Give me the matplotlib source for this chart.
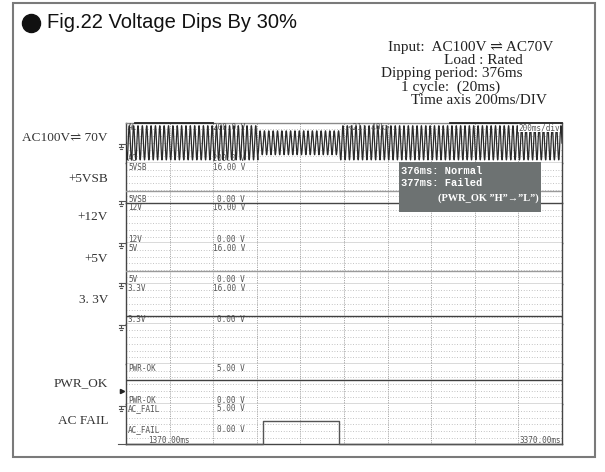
import numpy as np
import matplotlib.pyplot as plt
from matplotlib.patches import Rectangle

# capture window (ms), 200 ms per division
t_start, t_end = 1370.0, 3370.0
div_ms = 200

# AC input: 50 Hz mains, peak envelope dips from 100 V to 70 V and back
mains_hz = 50
env_edges = [1370, 1975, 2351, 3370]
env_peak = [170, 119, 170]

# DC rails as displayed on the 0-16 V zones (12V sits on the zone top)
rail_names = ['5VSB', '12V', '5V', '3.3V']
rail_levels = [4.8, 16.0, 4.9, 3.2]
rail_colors = ['#9a9a9a', '#454545', '#9a9a9a', '#404040']

# logic signals (0-5 V zones)
pwr_ok_t = [1370, 3370]
pwr_ok_v = [3.0, 3.0]
ac_fail_t = [1370, 1997, 1997, 2348, 2348, 3370]
ac_fail_v = [0, 0, 2.9, 2.9, 0, 0]

# zone name, top label, bottom label, y-limits
zones = [
    ('AC', '200.0 V', '-200.0 V', (-200, 200)),
    ('5VSB', '16.00 V', '0.00 V', (0, 16)),
    ('12V', '16.00 V', '0.00 V', (0, 16)),
    ('5V', '16.00 V', '0.00 V', (0, 16)),
    ('3.3V', '16.00 V', '0.00 V', (0, 16)),
    (None, None, None, (0, 16)),
    ('PWR-OK', '5.00 V', '0.00 V', (0, 5)),
    ('AC_FAIL', '5.00 V', '0.00 V', (0, 5)),
]

side_labels = ['AC100V\u21cc 70V', '+5VSB', '+12V', '+5V', '3. 3V', 'PWR_OK', 'AC FAIL']
side_label_y = [138, 179, 217, 259, 300, 383, 421]

W, H = 605, 472
fig = plt.figure(figsize=(W / 100, H / 100), dpi=100)
fig.patch.set_facecolor('white')

plot_left, plot_right = 126, 562
plot_top, plot_bottom = 122.7, 444.3
zone_h = (plot_bottom - plot_top) / len(zones)

mono = ['DejaVu Sans Mono']
serif = ['Liberation Serif', 'DejaVu Serif', 'DejaVu Sans']
lab = dict(fontsize=5.5, family=mono, color='#555', va='center')

axes = []
for i, (name, top_lab, bot_lab, ylim) in enumerate(zones):
    top = plot_top + i * zone_h
    ax = fig.add_axes([plot_left / W, 1 - (top + zone_h) / H,
                       (plot_right - plot_left) / W, zone_h / H])
    ax.set_xlim(t_start, t_end)
    ax.set_ylim(*ylim)
    ax.set_xticks([])
    ax.set_yticks([])
    for s in ax.spines.values():
        s.set_color('#454545')
        s.set_linewidth(1.0)
    ax.spines['top'].set_visible(i == 0)
    ax.spines['top'].set_color('#8a8a8a')

    # dotted screen grid
    for t in np.arange(t_start + div_ms, t_end, div_ms):
        ax.axvline(t, color='#8c8c8c', lw=0.6, ls=(0, (1, 1.2)), zorder=0)
    y0, y1 = ylim
    for f in np.linspace(0, 1, 7)[1:-1]:
        ax.axhline(y0 + f * (y1 - y0), color='#b0b0b0', lw=0.6,
                   ls=(0, (1, 2.2)), zorder=0)

    if name:
        by = 0.37 if name == 'AC_FAIL' else 0.1
        ax.text(2 / 436, 0.88, name, transform=ax.transAxes, ha='left', **lab)
        ax.text(0.273, 0.88, top_lab, transform=ax.transAxes, ha='right', **lab)
        ax.text(2 / 436, by, name, transform=ax.transAxes, ha='left', **lab)
        ax.text(0.273, by, bot_lab, transform=ax.transAxes, ha='right', **lab)
    axes.append(ax)

# AC waveform
t = np.linspace(t_start, t_end, 12000)
idx = np.clip(np.searchsorted(env_edges, t, side='right') - 1, 0, len(env_peak) - 1)
envelope = np.array(env_peak)[idx]
ac = envelope * np.sin(2 * np.pi * mains_hz * t / 1000.0)
axes[0].plot(t, ac, color='#2a2a2a', lw=0.9, zorder=3)
axes[0].text(0.51, 0.88, '<21: 40k>', transform=axes[0].transAxes,
             ha='left', **lab)
axes[0].text(0.995, 0.88, '200ms/div', transform=axes[0].transAxes,
             ha='right', zorder=5, bbox=dict(fc='white', ec='none', pad=0.3),
             **lab)

# DC rails
for k, (lvl, col) in enumerate(zip(rail_levels, rail_colors)):
    axes[k + 1].axhline(lvl, color=col, lw=1.0, zorder=3)

axes[6].plot(pwr_ok_t, pwr_ok_v, color='#404040', lw=1.0, zorder=3)
axes[7].plot(ac_fail_t, ac_fail_v, color='#555555', lw=1.0, zorder=3,
             clip_on=False)
axes[7].text(0.05, 0.1, '1370.00ms', transform=axes[7].transAxes,
             ha='left', **lab)
axes[7].text(0.998, 0.1, '3370.00ms', transform=axes[7].transAxes,
             ha='right', **lab)

# overlay in pixel units for frame, headings and markers
ov = fig.add_axes([0, 0, 1, 1])
ov.set_xlim(0, W)
ov.set_ylim(H, 0)
ov.axis('off')

ov.add_patch(Rectangle((13, 3), 582, 454, fill=False, ec='#7a7a7a', lw=1.5))
ov.plot([31], [23], 'o', ms=13, color='#111')
ov.text(47, 23, 'Fig.22 Voltage Dips By 30%', fontsize=14.5,
        family=['Liberation Sans', 'DejaVu Sans'], va='center', ha='left',
        color='#111')

info = ['Input:  AC100V \u21cc AC70V', 'Load : Rated', 'Dipping period: 376ms',
        '1 cycle:  (20ms)', 'Time axis 200ms/DIV']
info_x = [471, 483, 452, 451, 479]
info_y = [48, 61, 74, 87, 101]
for s, x, y in zip(info, info_x, info_y):
    ov.text(x, y, s, fontsize=11, family=serif, ha='center', va='center',
            color='#222')

for s, y in zip(side_labels, side_label_y):
    ov.text(108, y, s, fontsize=9.5, family=serif, ha='right', va='center',
            color='#333')

# zoom indicator on the top edge
ov.plot([135, 213], [122.7, 122.7], color='#222', lw=1.3)
ov.plot([450, 562], [122.7, 122.7], color='#222', lw=1.3)

# ground markers left of the screen
for gy in [146, 203, 245, 285, 327, 408]:
    ov.plot([119, 126], [gy - 2, gy - 2], color='#555', lw=0.8)
    ov.plot([121, 121], [gy - 2, gy + 1], color='#555', lw=0.8)
    ov.plot([119, 123], [gy + 1, gy + 1], color='#555', lw=0.8)
    ov.plot([120, 122], [gy + 3, gy + 3], color='#555', lw=0.8)
ov.plot([122], [391], marker='>', ms=3, color='#222')
ov.plot([118, 126], [444.3, 444.3], color='#555', lw=0.8)

# result note
ov.add_patch(Rectangle((399, 162), 142, 50, fc='#6d7272', ec='none', zorder=6))
note_font = ['Liberation Mono', 'DejaVu Sans Mono']
ov.text(401, 171, '376ms: Normal', fontsize=7.5, family=note_font,
        weight='bold', color='white', va='center', ha='left', zorder=7)
ov.text(401, 183, '377ms: Failed', fontsize=7.5, family=note_font,
        weight='bold', color='white', va='center', ha='left', zorder=7)
ov.text(539, 198, '(PWR_OK \u201dH\u201d\u2192\u201dL\u201d)', fontsize=7.5,
        family=serif, weight='bold', color='white', va='center', ha='right',
        zorder=7)

fig.savefig('out.png', dpi=100)
